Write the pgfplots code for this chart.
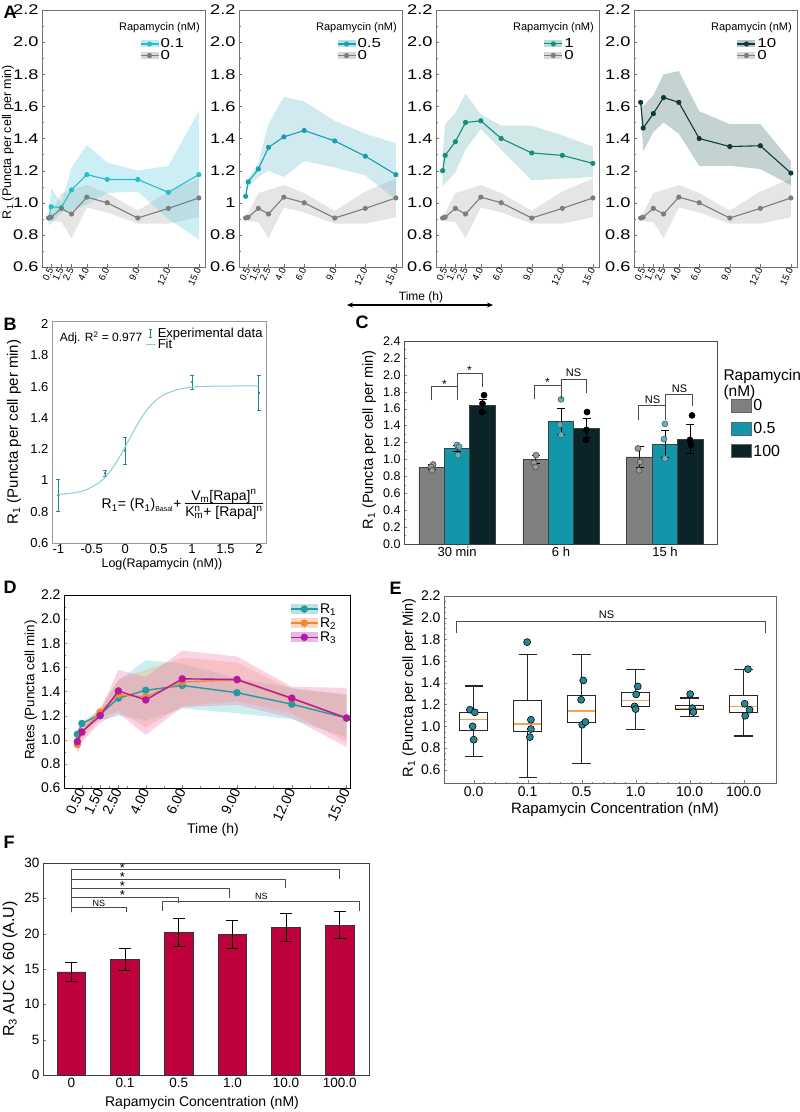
\documentclass[border=0pt]{standalone}
\usepackage{fontspec}
\setmainfont{Liberation Sans}
\newfontfamily\wide[FakeStretch=1.3]{Liberation Sans}
\usepackage{pgfplots}
\pgfplotsset{compat=1.18}
\usepgfplotslibrary{statistics}
\usetikzlibrary{arrows.meta}
\newcommand{\fs}[1]{\fontsize{#1}{#1}\selectfont}

\definecolor{cA1}{RGB}{38,190,205}
\definecolor{cA2}{RGB}{22,160,175}
\definecolor{cA3}{RGB}{22,140,125}
\definecolor{cA4}{RGB}{14,58,60}
\definecolor{cG}{RGB}{125,125,125}
\definecolor{bA1}{RGB}{110,210,228}
\definecolor{bA2}{RGB}{120,195,210}
\definecolor{bA3}{RGB}{120,190,190}
\definecolor{bA4}{RGB}{90,125,125}
\definecolor{bG}{RGB}{150,150,150}
\definecolor{fitc}{RGB}{140,205,212}
\definecolor{ptc}{RGB}{25,135,150}
\definecolor{cCg}{RGB}{128,128,128}
\definecolor{cCt}{RGB}{18,150,170}
\definecolor{cCd}{RGB}{10,36,42}
\definecolor{cR1}{RGB}{35,155,160}
\definecolor{cR2}{RGB}{240,135,50}
\definecolor{cR3}{RGB}{180,25,160}
\definecolor{bR1}{RGB}{90,200,210}
\definecolor{bR2}{RGB}{245,165,100}
\definecolor{bR3}{RGB}{240,110,170}
\definecolor{ept}{RGB}{40,135,148}
\definecolor{medc}{RGB}{242,165,85}
\definecolor{cF}{RGB}{190,0,60}

\pgfplotsset{
  every axis/.append style={scale only axis, /pgf/number format/assume math mode=true, tick pos=left, clip mode=individual},
  bandlegA/.style={legend image code/.code={
     \fill[##1, draw=none, fill opacity=0.3] (0pt,-3.5pt) rectangle (18pt,3.5pt);
     \draw[##1, mark repeat=2, mark phase=2] plot coordinates {(0pt,0pt) (9pt,0pt) (18pt,0pt)};}},
  bandlegD/.style={legend image code/.code={
     \fill[##1, draw=none, fill opacity=0.3] (0pt,-5pt) rectangle (27pt,5pt);
     \draw[##1, mark repeat=2, mark phase=2] plot coordinates {(0pt,0pt) (13.5pt,0pt) (27pt,0pt)};}},
  yfmt/.style={yticklabel style={/pgf/number format/fixed, /pgf/number format/fixed zerofill, /pgf/number format/precision=1}},
  Abase/.style={width=163pt, height=257pt, xmin=-0.4, xmax=15.6, ymin=0.6, ymax=2.2,
     ytick={0.6,0.8,1.0,1.2,1.4,1.6,1.8,2.0,2.2}, minor y tick num=1, yfmt,
     xtick={0.5,1.5,2.5,4,6,9,12,15}, xticklabels={0.5,1.5,2.5,4.0,6.0,9.0,12.0,15.0},
     xticklabel style={rotate=65, anchor=east, font=\fs{9.5}, inner sep=1pt},
     yticklabel style={font=\wide\fs{14}},
     axis line style={black!55}, major tick style={black!55}, minor tick style={black!55},
     major tick length=3pt, minor tick length=2pt,
     bandlegA, legend cell align=left,
     legend style={at={(0.6,0.895)}, anchor=north west, draw=none, fill=none, font=\wide\fs{13}, row sep=-2pt, inner sep=0pt, nodes={inner sep=1.5pt}}},
  Aline/.style={color=#1, line width=1.1pt, mark=*, mark size=2pt},
  Dline/.style={color=#1, line width=1.4pt, mark=*, mark size=3pt},
  brk/.style={black!70, line width=0.6pt, forget plot},
}

\begin{document}
\begin{tikzpicture}
\useasboundingbox (0pt,0pt) rectangle (800pt,-1112pt);

% ---------------- Panel A ----------------
\begin{axis}[Abase, at={(42pt,-10pt)}, anchor=north west]
\addplot[fill=bG, fill opacity=0.25, draw=none, forget plot] coordinates {(0.25,0.93)(0.5,0.935)(1.5,1.06)(2.5,1.08)(4,1.11)(6,1.06)(9,0.95)(12,1.07)(15,1.15)(15,0.91)(12,0.87)(9,0.87)(6,0.94)(4,0.97)(2.5,0.78)(1.5,0.88)(0.5,0.885)(0.25,0.885)};
\addplot[fill=bA1, fill opacity=0.35, draw=none, forget plot] coordinates {(0.25,0.92)(0.5,1.09)(1.5,1.0)(2.5,1.22)(4,1.36)(6,1.25)(9,1.2)(12,1.23)(15,1.57)(15,0.77)(12,0.9)(9,1.07)(6,1.06)(4,0.99)(2.5,0.95)(1.5,0.94)(0.5,0.87)(0.25,0.86)};
\addplot[Aline=cA1] coordinates {(0.25,0.905)(0.5,0.975)(1.5,0.97)(2.5,1.08)(4,1.175)(6,1.145)(9,1.145)(12,1.065)(15,1.175)};
\addlegendentry{0.1}
\addplot[Aline=cG] coordinates {(0.25,0.905)(0.5,0.91)(1.5,0.965)(2.5,0.93)(4,1.035)(6,1.0)(9,0.905)(12,0.965)(15,1.03)};
\addlegendentry{0}
\node[anchor=north east, font=\fs{11}] at (rel axis cs:0.99,0.965) {Rapamycin (nM)};
\end{axis}

\begin{axis}[Abase, at={(239pt,-10pt)}, anchor=north west, yticklabels={0.6,0.8,1,1.2,1.4,1.6,1.8,2.0,2.2}]
\addplot[fill=bG, fill opacity=0.25, draw=none, forget plot] coordinates {(0.25,0.93)(0.5,0.935)(1.5,1.06)(2.5,1.08)(4,1.11)(6,1.06)(9,0.95)(12,1.07)(15,1.15)(15,0.91)(12,0.87)(9,0.87)(6,0.94)(4,0.97)(2.5,0.78)(1.5,0.88)(0.5,0.885)(0.25,0.885)};
\addplot[fill=bA2, fill opacity=0.35, draw=none, forget plot] coordinates {(0.25,1.07)(0.5,1.15)(1.5,1.25)(2.5,1.49)(4,1.66)(6,1.63)(9,1.51)(12,1.43)(15,1.37)(15,1.02)(12,1.17)(9,1.22)(6,1.26)(4,1.16)(2.5,1.2)(1.5,1.16)(0.5,1.1)(0.25,1.02)};
\addplot[Aline=cA2] coordinates {(0.25,1.04)(0.5,1.13)(1.5,1.21)(2.5,1.345)(4,1.41)(6,1.45)(9,1.385)(12,1.29)(15,1.175)};
\addlegendentry{0.5}
\addplot[Aline=cG] coordinates {(0.25,0.905)(0.5,0.91)(1.5,0.965)(2.5,0.93)(4,1.035)(6,1.0)(9,0.905)(12,0.965)(15,1.03)};
\addlegendentry{0}
\node[anchor=north east, font=\fs{11}] at (rel axis cs:0.99,0.965) {Rapamycin (nM)};
\end{axis}

\begin{axis}[Abase, at={(436pt,-10pt)}, anchor=north west, legend style={at={(0.66,0.895)}}]
\addplot[fill=bG, fill opacity=0.25, draw=none, forget plot] coordinates {(0.25,0.93)(0.5,0.935)(1.5,1.06)(2.5,1.08)(4,1.11)(6,1.06)(9,0.95)(12,1.07)(15,1.15)(15,0.91)(12,0.87)(9,0.87)(6,0.94)(4,0.97)(2.5,0.78)(1.5,0.88)(0.5,0.885)(0.25,0.885)};
\addplot[fill=bA3, fill opacity=0.35, draw=none, forget plot] coordinates {(0.25,1.3)(0.5,1.49)(1.5,1.56)(2.5,1.68)(4,1.55)(6,1.48)(9,1.48)(12,1.42)(15,1.35)(15,1.16)(12,1.15)(9,1.14)(6,1.33)(4,1.46)(2.5,1.33)(1.5,1.19)(0.5,1.12)(0.25,1.1)};
\addplot[Aline=cA3] coordinates {(0.25,1.2)(0.5,1.295)(1.5,1.38)(2.5,1.5)(4,1.51)(6,1.4)(9,1.31)(12,1.295)(15,1.245)};
\addlegendentry{1}
\addplot[Aline=cG] coordinates {(0.25,0.905)(0.5,0.91)(1.5,0.965)(2.5,0.93)(4,1.035)(6,1.0)(9,0.905)(12,0.965)(15,1.03)};
\addlegendentry{0}
\node[anchor=north east, font=\fs{11}] at (rel axis cs:0.99,0.965) {Rapamycin (nM)};
\end{axis}

\begin{axis}[Abase, at={(634pt,-10pt)}, anchor=north west, legend style={at={(0.63,0.895)}}]
\addplot[fill=bG, fill opacity=0.25, draw=none, forget plot] coordinates {(0.25,0.93)(0.5,0.935)(1.5,1.06)(2.5,1.08)(4,1.11)(6,1.06)(9,0.95)(12,1.07)(15,1.15)(15,0.91)(12,0.87)(9,0.87)(6,0.94)(4,0.97)(2.5,0.78)(1.5,0.88)(0.5,0.885)(0.25,0.885)};
\addplot[fill=bA4, fill opacity=0.35, draw=none, forget plot] coordinates {(0.25,1.64)(0.5,1.6)(1.5,1.67)(2.5,1.8)(4,1.82)(6,1.57)(9,1.49)(12,1.49)(15,1.26)(15,1.11)(12,1.21)(9,1.23)(6,1.23)(4,1.43)(2.5,1.5)(1.5,1.44)(0.5,1.32)(0.25,1.61)};
\addplot[Aline=cA4] coordinates {(0.25,1.625)(0.5,1.465)(1.5,1.555)(2.5,1.655)(4,1.625)(6,1.4)(9,1.35)(12,1.355)(15,1.185)};
\addlegendentry{10}
\addplot[Aline=cG] coordinates {(0.25,0.905)(0.5,0.91)(1.5,0.965)(2.5,0.93)(4,1.035)(6,1.0)(9,0.905)(12,0.965)(15,1.03)};
\addlegendentry{0}
\node[anchor=north east, font=\fs{11}] at (rel axis cs:0.99,0.965) {Rapamycin (nM)};
\end{axis}

\node[rotate=90, font=\fs{12.5}] at (8pt,-142pt) {R\textsubscript{1} (Puncta per cell per min)};
\draw[{Stealth[length=6pt,width=5pt]}-{Stealth[length=6pt,width=5pt]}, line width=1.5pt] (347pt,-305pt) -- (493pt,-305pt);
\node[font=\fs{12}] at (421pt,-297pt) {Time (h)};

% ---------------- Panel B ----------------
\begin{axis}[at={(52pt,-321pt)}, anchor=north west, width=214pt, height=222pt,
  xmin=-1.094, xmax=2.105, ymin=0.6, ymax=2.02,
  xtick={-1,-0.5,0,0.5,1,1.5,2}, xticklabels={-1,-0.5,0,0.5,1,1.5,2},
  ytick={0.6,0.8,1,1.2,1.4,1.6,1.8,2}, yticklabels={0.6,0.8,1,1.2,1.4,1.6,1.8,2},
  tick label style={font=\fs{13}}, xticklabel style={yshift=2pt}, axis line style={black!40}, major tick length=0pt,
  legend cell align=left,
  legend style={at={(0.435,0.975)}, anchor=north west, draw=none, fill=none, font=\fs{13}, row sep=-3pt, inner sep=0pt, nodes={inner sep=1.5pt}}]
\addplot[only marks, mark=*, mark size=1pt, color=ptc,
  legend image code/.code={\draw[ptc, line width=1pt] (5pt,-4pt) -- (5pt,4pt); \draw[ptc, line width=0.6pt] (3.5pt,-4pt) -- (6.5pt,-4pt) (3.5pt,4pt) -- (6.5pt,4pt);},
  error bars/.cd, y dir=both, y explicit, error bar style={line width=1pt, color=ptc}, error mark options={rotate=90, mark size=2pt, line width=0.7pt, color=ptc}]
  coordinates {(-1,0.905) +- (0,0.105) (-0.301,1.045) +- (0,0.02) (0,1.19) +- (0,0.085) (1,1.63) +- (0,0.045) (2,1.56) +- (0,0.11)};
\addlegendentry{Experimental data}
\addplot[color=fitc, line width=1pt, smooth, legend image code/.code={\draw[fitc, line width=1pt] (0pt,0pt) -- (10pt,0pt);}]
  coordinates {(-1,0.911)(-0.8,0.919)(-0.6,0.938)(-0.4,0.983)(-0.3,1.021)(-0.2,1.073)(-0.1,1.139)(0,1.215)(0.1,1.295)(0.2,1.371)(0.3,1.437)(0.4,1.489)(0.5,1.527)(0.6,1.553)(0.8,1.583)(1.0,1.597)(1.2,1.602)(1.5,1.604)(2.0,1.605)};
\addlegendentry{Fit}
\node[anchor=west, font=\fs{12}] at (rel axis cs:0.02,0.923) {Adj. R\textsuperscript{2} = 0.977};
\node[anchor=east, font=\fs{14}, inner sep=0pt] at (rel axis cs:0.985,0.17) {R\textsubscript{1}= (R\textsubscript{1})\textsubscript{\fs{7}Basal}+ \begin{tabular}{@{}c@{}}V\textsubscript{m}[Rapa]\textsuperscript{n}\\[-1pt]\hline\rule{0pt}{13pt}K\rlap{\textsuperscript{n}}\textsubscript{m}+ [Rapa]\textsuperscript{n}\end{tabular}};
\end{axis}
\node[rotate=90, font=\fs{15}] at (14pt,-432pt) {R\textsubscript{1} (Puncta per cell per min)};
\node[font=\fs{12.5}] at (162pt,-564pt) {Log(Rapamycin (nM))};

% ---------------- Panel C ----------------
\begin{axis}[at={(404pt,-341pt)}, anchor=north west, width=313pt, height=203pt,
  xmin=-0.51, xmax=2.5, ymin=0, ymax=2.4,
  ytick={0,0.2,0.4,0.6,0.8,1.0,1.2,1.4,1.6,1.8,2.0,2.2,2.4}, minor y tick num=1, yfmt,
  xtick={0,1,2}, xticklabels={30 min,6 h,15 h},
  yticklabel style={font=\fs{12.5}}, xticklabel style={font=\fs{13}},
  axis line style={black!70}, major tick length=3pt, minor tick length=1.5pt, xtick style={draw=none},
  legend cell align=left,
  legend style={at={(1.045,0.72)}, anchor=north west, draw=none, fill=none, font=\fs{16}, row sep=7pt, inner sep=0pt, nodes={inner sep=1.5pt}}]
\addplot[ybar, bar width=0.245, bar shift=0pt, fill=cCg, draw=black!75, line width=0.6pt,
  legend image code/.code={\draw[fill=cCg, draw=black!60] (0pt,-6.5pt) rectangle (20pt,6.5pt);},
  error bars/.cd, y dir=both, y explicit, error bar style={black, line width=0.8pt}, error mark options={rotate=90, mark size=4pt, black, line width=0.8pt}]
  coordinates {(-0.245,0.91) +- (0,0.03) (0.755,1.0) +- (0,0.05) (1.755,1.03) +- (0,0.12)};
\addlegendentry{0}
\addplot[ybar, bar width=0.245, bar shift=0pt, fill=cCt, draw=black!75, line width=0.6pt,
  legend image code/.code={\draw[fill=cCt, draw=black!60] (0pt,-6.5pt) rectangle (20pt,6.5pt);},
  error bars/.cd, y dir=both, y explicit, error bar style={black, line width=0.8pt}, error mark options={rotate=90, mark size=4pt, black, line width=0.8pt}]
  coordinates {(0,1.13) +- (0,0.03) (1,1.45) +- (0,0.15) (2,1.18) +- (0,0.16)};
\addlegendentry{0.5}
\addplot[ybar, bar width=0.245, bar shift=0pt, fill=cCd, draw=black!75, line width=0.6pt,
  legend image code/.code={\draw[fill=cCd, draw=black!60] (0pt,-6.5pt) rectangle (20pt,6.5pt);},
  error bars/.cd, y dir=both, y explicit, error bar style={black, line width=0.8pt}, error mark options={rotate=90, mark size=4pt, black, line width=0.8pt}]
  coordinates {(0.245,1.635) +- (0,0.08) (1.245,1.37) +- (0,0.11) (2.245,1.24) +- (0,0.17)};
\addlegendentry{100}
\addplot[only marks, forget plot, mark=*, mark size=3pt, mark options={fill=black!40, draw=black!70, line width=0.6pt}]
  coordinates {(-0.23,0.94)(-0.25,0.91)(-0.24,0.87)(0.76,1.05)(0.74,0.96)(0.755,0.91)(1.74,1.13)(1.76,0.97)(1.75,0.87)};
\addplot[only marks, forget plot, mark=*, mark size=3pt, mark options={fill=cCt!70, draw=black!65, line width=0.6pt}]
  coordinates {(0,1.17)(0.02,1.15)(0.01,1.05)(1.0,1.71)(0.99,1.41)(1.0,1.29)(2.0,1.42)(1.99,1.24)(2.0,1.01)};
\addplot[only marks, forget plot, mark=*, mark size=3pt, mark options={fill=black, draw=black, line width=0.6pt}]
  coordinates {(0.26,1.76)(0.245,1.66)(0.24,1.56)(1.25,1.56)(1.245,1.35)(1.24,1.23)(2.26,1.52)(2.24,1.23)(2.25,1.17)};
\addplot[brk] coordinates {(-0.25,1.70)(-0.25,1.86)(0,1.86)(0,1.70)};
\addplot[brk] coordinates {(0,1.86)(0,2.02)(0.245,2.02)(0.245,1.86)};
\addplot[brk] coordinates {(0.745,1.71)(0.745,1.88)(1,1.88)(1,1.71)};
\addplot[brk] coordinates {(1,1.88)(1,1.95)(1.245,1.95)(1.245,1.79)};
\addplot[brk] coordinates {(1.745,1.47)(1.745,1.64)(2,1.64)(2,1.47)};
\addplot[brk] coordinates {(2,1.64)(2,1.77)(2.265,1.77)(2.265,1.63)};
\node[font=\fs{12}] at (axis cs:-0.12,1.89) {*};
\node[font=\fs{12}] at (axis cs:0.12,2.05) {*};
\node[font=\fs{12}] at (axis cs:0.87,1.91) {*};
\node[font=\fs{11}] at (axis cs:1.12,2.02) {NS};
\node[font=\fs{11}] at (axis cs:1.88,1.71) {NS};
\node[font=\fs{11}] at (axis cs:2.14,1.84) {NS};
\end{axis}
\node[rotate=90, font=\fs{14.5}] at (369pt,-440pt) {R\textsubscript{1} (Puncta per cell per min)};
\node[anchor=west, font=\fs{15.5}] at (720pt,-376pt) {Rapamycin};
\node[anchor=west, font=\fs{15.5}] at (720pt,-392pt) {(nM)};

% ---------------- Panel D ----------------
\begin{axis}[at={(64pt,-595pt)}, anchor=north west, width=286pt, height=193pt,
  xmin=-0.48, xmax=15.19, ymin=0.6, ymax=2.2,
  ytick={0.6,0.8,1.0,1.2,1.4,1.6,1.8,2.0,2.2}, minor y tick num=1, yfmt,
  xtick={0.5,1.5,2.5,4,6,9,12,15}, xticklabels={0.50,1.50,2.50,4.00,6.00,9.00,12.00,15.00},
  minor xtick={1,2,3,5,7,8,10,11,13,14},
  xticklabel style={rotate=65, anchor=east, font=\fs{14}, inner sep=1pt},
  yticklabel style={font=\fs{14}},
  axis line style={black}, major tick length=3pt, minor tick length=2pt,
  bandlegD, legend cell align=left,
  legend style={at={(0.79,0.965)}, anchor=north west, draw=none, fill=none, font=\fs{14}, row sep=0pt, inner sep=0pt, nodes={inner sep=1.5pt}}]
\addplot[fill=bR1, fill opacity=0.3, draw=none, forget plot] coordinates {(0.25,1.07)(0.5,1.15)(1.5,1.25)(2.5,1.49)(4,1.66)(6,1.63)(9,1.51)(12,1.43)(15,1.37)(15,1.02)(12,1.17)(9,1.22)(6,1.26)(4,1.16)(2.5,1.2)(1.5,1.16)(0.5,1.1)(0.25,1.02)};
\addplot[fill=bR2, fill opacity=0.3, draw=none, forget plot] coordinates {(0.25,1.0)(0.5,1.1)(1.5,1.27)(2.5,1.5)(4,1.58)(6,1.68)(9,1.64)(12,1.42)(15,1.38)(15,0.98)(12,1.22)(9,1.32)(6,1.28)(4,1.1)(2.5,1.24)(1.5,1.18)(0.5,1.0)(0.25,0.9)};
\addplot[fill=bR3, fill opacity=0.3, draw=none, forget plot] coordinates {(0.25,1.02)(0.5,1.12)(1.5,1.24)(2.5,1.58)(4,1.52)(6,1.74)(9,1.69)(12,1.44)(15,1.43)(15,0.94)(12,1.18)(9,1.29)(6,1.27)(4,1.04)(2.5,1.22)(1.5,1.14)(0.5,0.98)(0.25,0.88)};
\addplot[Dline=cR1] coordinates {(0.25,1.045)(0.5,1.135)(1.5,1.21)(2.5,1.345)(4,1.41)(6,1.45)(9,1.39)(12,1.295)(15,1.18)};
\addlegendentry{R\textsubscript{1}}
\addplot[Dline=cR2] coordinates {(0.25,0.96)(0.5,1.06)(1.5,1.23)(2.5,1.375)(4,1.355)(6,1.48)(9,1.495)(12,1.34)(15,1.18)};
\addlegendentry{R\textsubscript{2}}
\addplot[Dline=cR3] coordinates {(0.25,0.985)(0.5,1.065)(1.5,1.2)(2.5,1.405)(4,1.33)(6,1.505)(9,1.5)(12,1.345)(15,1.18)};
\addlegendentry{R\textsubscript{3}}
\end{axis}
\node[rotate=90, font=\fs{13.5}] at (31pt,-690pt) {Rates (Puncta cell min)};
\node[font=\fs{14}] at (213pt,-830pt) {Time (h)};

% ---------------- Panel E ----------------
\begin{axis}[at={(444pt,-596pt)}, anchor=north west, width=332pt, height=187pt,
  xmin=-0.55, xmax=5.6, ymin=0.477, ymax=2.2,
  ytick={0.6,0.8,1.0,1.2,1.4,1.6,1.8,2.0,2.2}, minor y tick num=3, yfmt,
  xtick={0,1,2,3,4,5}, xticklabels={0.0,0.1,0.5,1.0,10.0,100.0}, minor x tick num=4,
  tick label style={font=\fs{14}},
  axis line style={black!60}, major tick length=3pt, minor tick length=1.5pt,
  boxplot/draw direction=y,
  boxplot/every median/.style={draw=medc, line width=1.2pt},
  boxplot/every whisker/.style={draw=black!85, line width=1.2pt}]
\addplot[boxplot prepared={median=1.06, upper quartile=1.13, lower quartile=0.96, upper whisker=1.37, lower whisker=0.72, draw position=0, box extend=0.51, whisker extend=0.34}, draw=black!85, fill=white, line width=1pt] coordinates {};
\addplot[boxplot prepared={median=1.02, upper quartile=1.235, lower quartile=0.95, upper whisker=1.66, lower whisker=0.53, draw position=1, box extend=0.51, whisker extend=0.34}, draw=black!85, fill=white, line width=1pt] coordinates {};
\addplot[boxplot prepared={median=1.14, upper quartile=1.28, lower quartile=1.03, upper whisker=1.66, lower whisker=0.655, draw position=2, box extend=0.51, whisker extend=0.34}, draw=black!85, fill=white, line width=1pt] coordinates {};
\addplot[boxplot prepared={median=1.24, upper quartile=1.31, lower quartile=1.18, upper whisker=1.52, lower whisker=0.97, draw position=3, box extend=0.51, whisker extend=0.34}, draw=black!85, fill=white, line width=1pt] coordinates {};
\addplot[boxplot prepared={median=1.16, upper quartile=1.19, lower quartile=1.15, upper whisker=1.26, lower whisker=1.09, draw position=4, box extend=0.51, whisker extend=0.34}, draw=black!85, fill=white, line width=1pt] coordinates {};
\addplot[boxplot prepared={median=1.18, upper quartile=1.28, lower quartile=1.13, upper whisker=1.52, lower whisker=0.91, draw position=5, box extend=0.51, whisker extend=0.34}, draw=black!85, fill=white, line width=1pt] coordinates {};
\addplot[only marks, mark=*, mark size=3.5pt, mark options={fill=ept, draw=black, line width=0.6pt}]
  coordinates {(-0.07,1.152)(0.02,1.128)(-0.02,0.999)(0,0.876)
               (0.99,1.775)(1.06,1.06)(1.06,0.974)(1.04,0.90)
               (2.03,1.422)(1.99,1.244)(2.01,1.014)(2.07,1.039)
               (3.04,1.367)(3.01,1.293)(2.98,1.183)(3.0,1.158)
               (4.01,1.296)(4.05,1.167)(4.07,1.131)
               (5.08,1.526)(5.02,1.207)(5.11,1.152)(5.03,1.097)};
\addplot[brk] coordinates {(-0.32,1.86)(-0.32,1.97)(5.41,1.97)(5.41,1.86)};
\node[font=\fs{11}] at (axis cs:2.46,2.03) {NS};
\end{axis}
\node[rotate=90, font=\fs{14.5}] at (409pt,-688pt) {R\textsubscript{1} (Puncta per cell per Min)};
\node[font=\fs{15}] at (615pt,-810pt) {Rapamycin Concentration (nM)};

% ---------------- Panel F ----------------
\begin{axis}[at={(43pt,-863pt)}, anchor=north west, width=326pt, height=212pt,
  xmin=-0.53, xmax=5.545, ymin=0, ymax=30,
  ytick={0,5,10,15,20,25,30}, xtick={0,1,2,3,4,5}, xticklabels={0,0.1,0.5,1.0,10.0,100.0},
  tick label style={font=\fs{13.5}}, axis line style={black!75}, major tick length=3pt, xtick style={draw=none}]
\addplot[ybar, bar width=0.534, bar shift=0pt, fill=cF, draw=black!80, line width=0.6pt,
  error bars/.cd, y dir=both, y explicit, error bar style={black, line width=1pt}, error mark options={rotate=90, mark size=6pt, black, line width=1pt}]
  coordinates {(0,14.6) +- (0,1.3) (1,16.35) +- (0,1.5) (2,20.2) +- (0,2.0) (3,19.85) +- (0,1.95) (4,20.9) +- (0,1.95) (5,21.2) +- (0,1.9)};
\addplot[brk] coordinates {(0,23.0)(0,23.7)(1.025,23.7)(1.025,23.0)};
\addplot[brk] coordinates {(0,23.0)(0,25.1)(2.0,25.1)(2.0,24.3)};
\addplot[brk] coordinates {(0,23.0)(0,26.45)(2.94,26.45)(2.94,25.0)};
\addplot[brk] coordinates {(0,23.0)(0,27.7)(3.99,27.7)(3.99,26.45)};
\addplot[brk] coordinates {(0,23.0)(0,29.05)(5.0,29.05)(5.0,27.7)};
\addplot[brk] coordinates {(1.69,23.2)(1.69,24.65)(5.37,24.65)(5.37,23.2)};
\node[font=\fs{13}] at (axis cs:0.95,25.4) {*};
\node[font=\fs{13}] at (axis cs:0.95,26.75) {*};
\node[font=\fs{13}] at (axis cs:0.95,28.0) {*};
\node[font=\fs{13}] at (axis cs:0.95,29.35) {*};
\node[font=\fs{9}] at (axis cs:0.51,24.3) {NS};
\node[font=\fs{9}] at (axis cs:3.54,25.3) {NS};
\end{axis}
\node[rotate=90, font=\fs{16}] at (10pt,-969pt) {R\textsubscript{3} AUC X 60 (A.U)};
\node[font=\fs{14}] at (202pt,-1103pt) {Rapamycin Concentration (nM)};

% ---------------- panel letters ----------------
\node[anchor=base west, font=\bfseries\fs{18}] at (0pt,-18pt) {A};
\node[anchor=base west, font=\bfseries\fs{18}] at (0pt,-330pt) {B};
\node[anchor=base west, font=\bfseries\fs{18}] at (352pt,-328pt) {C};
\node[anchor=base west, font=\bfseries\fs{18}] at (0pt,-593pt) {D};
\node[anchor=base west, font=\bfseries\fs{18}] at (386pt,-594pt) {E};
\node[anchor=base west, font=\bfseries\fs{18}] at (0pt,-848pt) {F};
\end{tikzpicture}
\end{document}
